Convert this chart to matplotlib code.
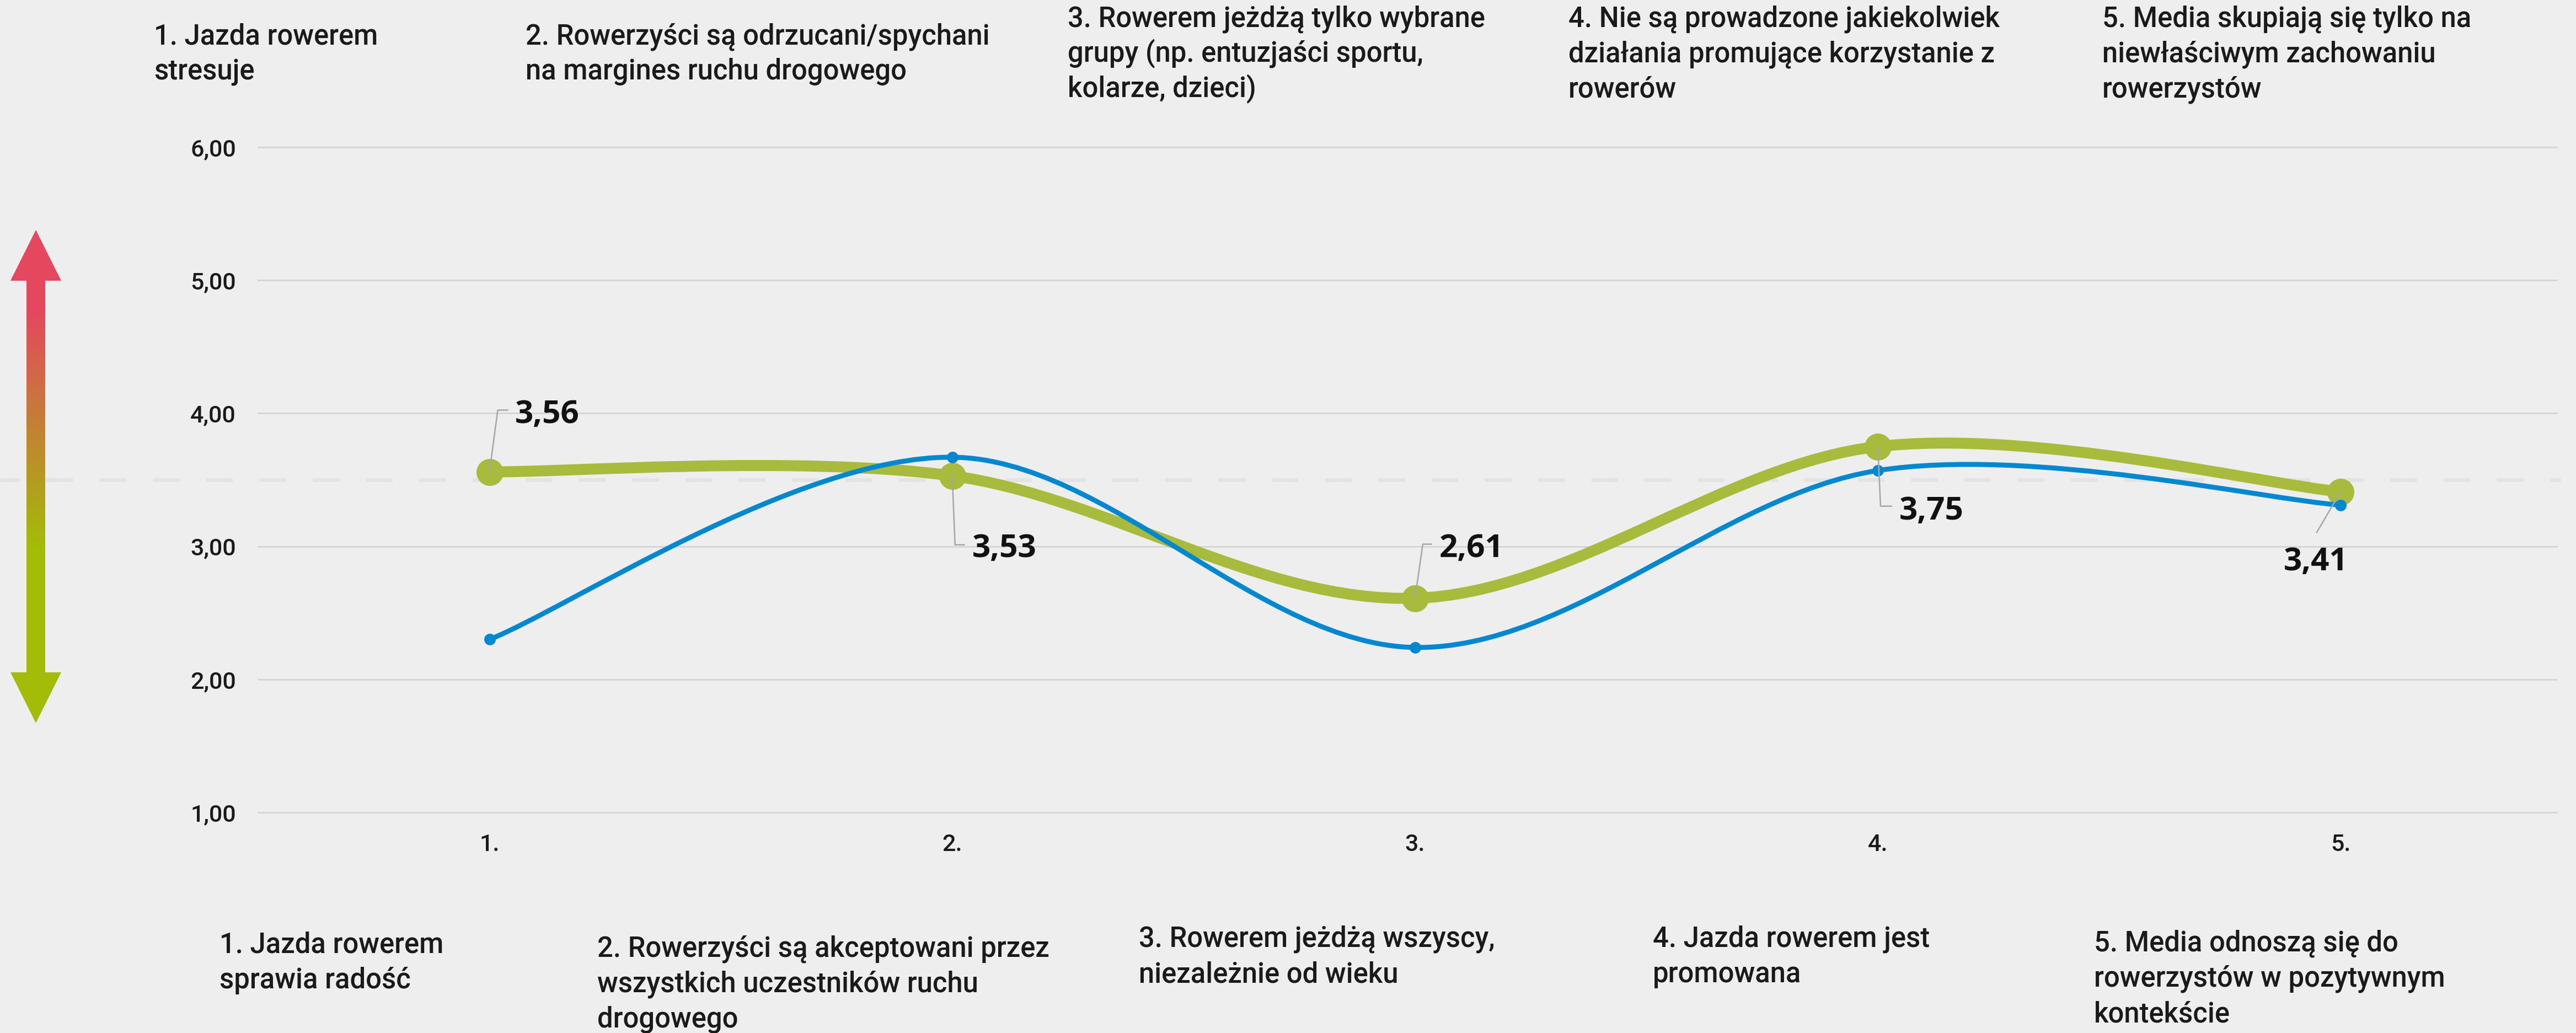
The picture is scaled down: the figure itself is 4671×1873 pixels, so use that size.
import numpy as np
import matplotlib
matplotlib.use("Agg")
import matplotlib.pyplot as plt
from matplotlib.path import Path
from matplotlib.patches import PathPatch, Polygon
from matplotlib.colors import LinearSegmentedColormap

# ---- data ----
positions = [1, 2, 3, 4, 5]
tick_labels = ["1.", "2.", "3.", "4.", "5."]
green_vals = [3.56, 3.53, 2.61, 3.75, 3.41]
blue_vals = [2.30, 3.67, 2.24, 3.57, 3.31]
green_labels = ["3,56", "3,53", "2,61", "3,75", "3,41"]
neutral = 3.5
yticks = [1, 2, 3, 4, 5, 6]
ytick_labels = ["1,00", "2,00", "3,00", "4,00", "5,00", "6,00"]

top_texts = [
    "1. Jazda rowerem\nstresuje",
    "2. Rowerzyści są odrzucani/spychani\nna margines ruchu drogowego",
    "3. Rowerem jeżdżą tylko wybrane\ngrupy (np. entuzjaści sportu,\nkolarze, dzieci)",
    "4. Nie są prowadzone jakiekolwiek\ndziałania promujące korzystanie z\nrowerów",
    "5. Media skupiają się tylko na\nniewłaściwym zachowaniu\nrowerzystów",
]
bottom_texts = [
    "1. Jazda rowerem\nsprawia radość",
    "2. Rowerzyści są akceptowani przez\nwszystkich uczestników ruchu\ndrogowego",
    "3. Rowerem jeżdżą wszyscy,\nniezależnie od wieku",
    "4. Jazda rowerem jest\npromowana",
    "5. Media odnoszą się do\nrowerzystów w pozytywnym\nkontekście",
]

# ---- layout (pixels) ----
W, H = 4671, 1873
DPI = 100
BG = "#eeeeee"
GREEN = "#a9bb3c"
BLUE = "#0288d1"
FONT = "Roboto"
LABEL_FONT = "Open Sans"
TXT = "#1a1a1a"

top_pos = [(279, 80), (953, 80), (1936, 48), (2844, 48), (3812, 48)]
bottom_pos = [(398, 1728), (1083, 1735), (2065, 1717), (2997, 1717), (3797, 1725)]
line_step = 64

label_offsets = [(46, -111, "left"), (36, 125, "left"), (44, -97, "left"),
                 (39, 110, "left"), (-45, 120, "center")]
leader_offsets = [[(0, 0), (15, -112), (34, -112)],
                  [(0, 0), (5, 125), (23, 125)],
                  [(0, 0), (14, -98), (31, -98)],
                  [(0, 0), (5, 108), (26, 108)],
                  [(0, 0), (-44, 75)]]


def pt(v):
    # pixels -> points
    return v * 72.0 / DPI


def smooth_path(xs, ys):
    # smoothed line like the spreadsheet one: bezier pieces with catmull-rom tangents
    pts = np.column_stack([xs, ys]).astype(float)
    ext = np.vstack([pts[0], pts, pts[-1]])
    verts = [pts[0]]
    codes = [Path.MOVETO]
    for i in range(len(pts) - 1):
        p0, p1, p2, p3 = ext[i], ext[i + 1], ext[i + 2], ext[i + 3]
        verts += [p1 + (p2 - p0) / 6.0, p2 - (p3 - p1) / 6.0, p2]
        codes += [Path.CURVE4] * 3
    return Path(verts, codes)


fig = plt.figure(figsize=(W / DPI, H / DPI), dpi=DPI, facecolor=BG)

ax_left, ax_right, ax_top, ax_bot = 468, 4636, 267, 1473
ax = fig.add_axes([ax_left / W, 1 - ax_bot / H, (ax_right - ax_left) / W, (ax_bot - ax_top) / H])
ax.set_facecolor("none")
ax.set_zorder(1)
ax.set_xlim(0.5, 5.467)
ax.set_ylim(1, 6)
for s in ax.spines.values():
    s.set_visible(False)

ax.set_yticks(yticks)
ax.set_yticklabels(ytick_labels, fontfamily=FONT, fontweight="medium", fontsize=31, color=TXT)
ax.set_xticks(positions)
ax.set_xticklabels(tick_labels, fontfamily=FONT, fontweight="medium", fontsize=31, color=TXT)
ax.tick_params(axis="y", length=0, pad=pt(40))
ax.tick_params(axis="x", length=0, pad=pt(38))
ax.yaxis.grid(True, color="#d6d6d6", lw=pt(3))
for gl in ax.get_ygridlines():
    gl.set_clip_on(False)
ax.set_axisbelow(True)

# neutral level dashed line, runs across the whole width
span = ax_right - ax_left
ax.axhline(neutral, xmin=-ax_left / span, xmax=(4643 - ax_left) / span, color="#e3e3e3",
           lw=pt(7), linestyle=(1.86, (6.9, 6.9)), clip_on=False, zorder=0.5)

# green series
ax.add_patch(PathPatch(smooth_path(positions, green_vals), fill=False, ec=GREEN,
                       lw=pt(20), capstyle="round", joinstyle="round", zorder=3))
ax.plot(positions, green_vals, "o", ms=pt(49), color=GREEN, mec="none", zorder=3.1)
# blue series
ax.add_patch(PathPatch(smooth_path(positions, blue_vals), fill=False, ec=BLUE,
                       lw=pt(9), capstyle="round", joinstyle="round", zorder=4))
ax.plot(positions, blue_vals, "o", ms=pt(21), color=BLUE, mec="none", zorder=4.1)

# overlay in pixel coordinates for texts, leaders and the arrow
ov = fig.add_axes([0, 0, 1, 1])
ov.set_zorder(2)
ov.patch.set_visible(False)
ov.axis("off")

# gradient double arrow
cmap = LinearSegmentedColormap.from_list(
    "arrow", [(0, "#e5475f"), (0.16, "#e5475f"), (0.64, "#a2bc08"), (1, "#a2bc08")])
grad = np.linspace(0, 1, 256).reshape(-1, 1)
im = ov.imshow(grad, cmap=cmap, extent=(19, 111, 1311, 417), aspect="auto", zorder=1)
arrow = Polygon([(65, 417), (111, 509), (82, 509), (82, 1219), (111, 1219), (65, 1311),
                 (19, 1219), (48, 1219), (48, 509), (19, 509)], closed=True,
                fc="none", ec="none", transform=ov.transData)
ov.add_patch(arrow)
im.set_clip_path(arrow)
ov.set_xlim(0, W)
ov.set_ylim(H, 0)

# data labels with leader lines
for i, (x, y) in enumerate(zip(positions, green_vals)):
    dx, dy = ax.transData.transform((x, y))
    px_x, px_y = dx, H - dy
    seg = leader_offsets[i]
    ov.plot([px_x + a for a, b in seg], [px_y + b for a, b in seg], color="#a6a6a6",
            lw=pt(2.5), zorder=5, solid_capstyle="butt")
    ox, oy, ha = label_offsets[i]
    ov.text(px_x + ox, px_y + oy, green_labels[i], ha=ha, va="center_baseline",
            fontfamily=LABEL_FONT, fontweight="bold", fontsize=42, color="#111111", zorder=6)

# statement texts above and below
for texts, poss in ((top_texts, top_pos), (bottom_texts, bottom_pos)):
    for s, (x0, y0) in zip(texts, poss):
        for k, line in enumerate(s.split("\n")):
            ov.text(x0, y0 + k * line_step, line, ha="left", va="baseline",
                    fontfamily=FONT, fontweight="medium", fontsize=36.5, color=TXT)

fig.savefig("out.png", dpi=DPI, facecolor=BG)
